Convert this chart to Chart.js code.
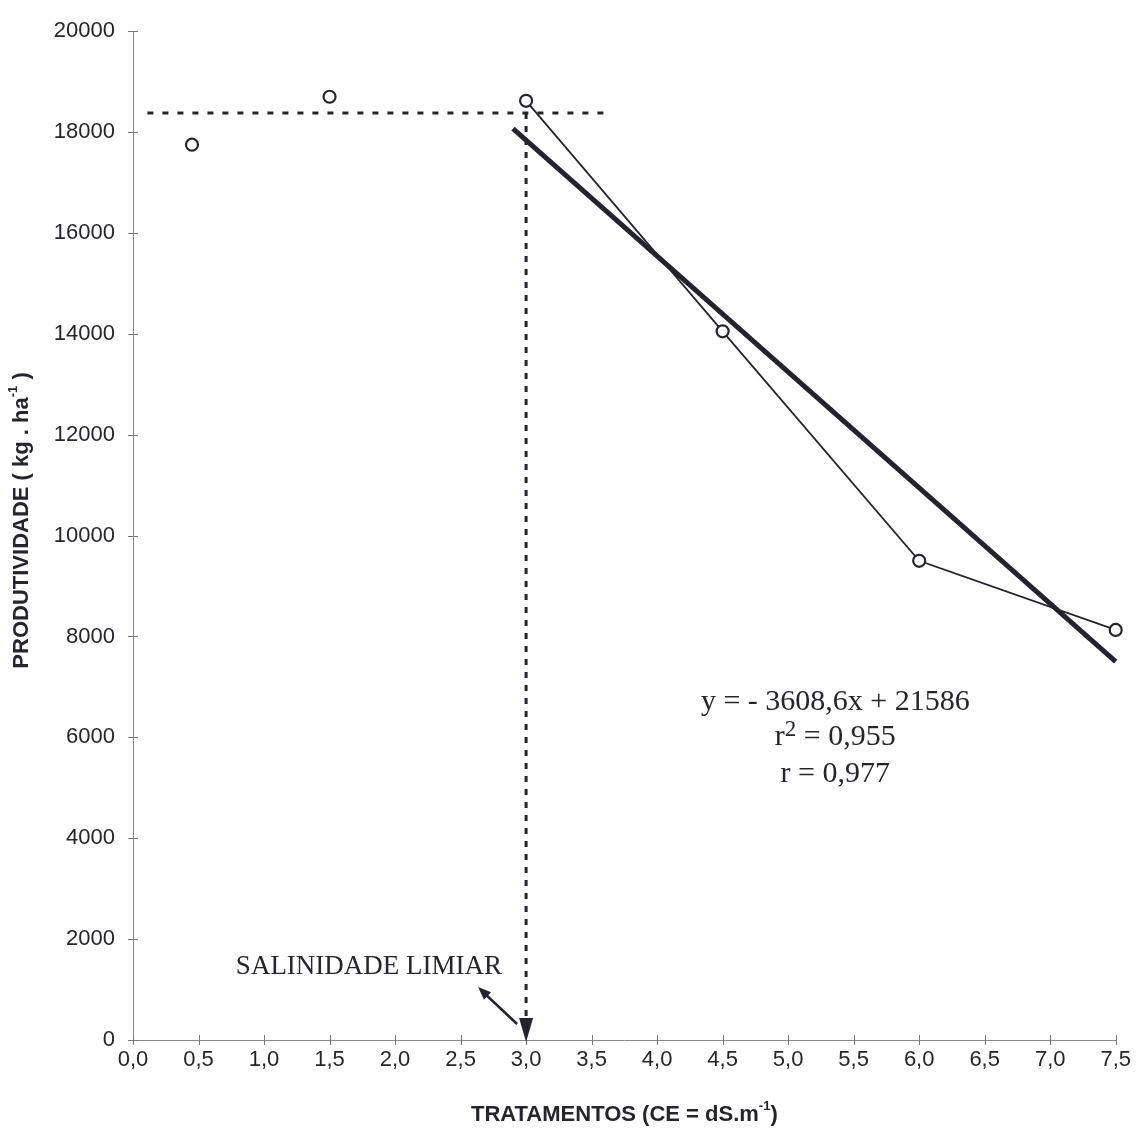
<!DOCTYPE html>
<html><head><meta charset="utf-8">
<script src="https://cdn.jsdelivr.net/npm/chart.js@4.4.0/dist/chart.umd.min.js"></script>
<style>html,body{margin:0;padding:0;background:#fff}#wrap{width:1138px;height:1134px;position:relative}</style>
</head><body><div id="wrap"><canvas id="c"></canvas></div>
<script>
// ---- data ----
const treatmentsCE = [0.45, 1.5, 3.0, 4.5, 6.0, 7.5];
const yieldKgHa = [17750, 18700, 18620, 14050, 9500, 8130];
const regressionX = [2.9, 7.5];
const regressionY = [18070, 7500];
const thresholdYield = 18380;
const thresholdLineX = [0.11, 3.6];
const thresholdCE = 3.0;
const xTickLabels = ['0,0','0,5','1,0','1,5','2,0','2,5','3,0','3,5','4,0','4,5','5,0','5,5','6,0','6,5','7,0','7,5'];
const yTickLabels = ['0','2000','4000','6000','8000','10000','12000','14000','16000','18000','20000'];
const equationLines = ['y = - 3608,6x + 21586', '= 0,955', 'r = 0,977'];
const thresholdLabel = 'SALINIDADE LIMIAR';
const xTitle = ['TRATAMENTOS (CE = dS.m', '-1', ')'];
const yTitle = ['PRODUTIVIDADE ( kg . ha', '-1', ' )'];

const INK = '#24232f';
const TXT = '#26252f';

const decor = {
  id: 'decor',
  afterDraw(chart) {
    const ctx = chart.ctx, xs = chart.scales.x, ys = chart.scales.y, ca = chart.chartArea;
    ctx.save();
    // tick marks crossing axes
    ctx.strokeStyle = '#777'; ctx.lineWidth = 1;
    xs.ticks.forEach(t => { const px = Math.round(xs.getPixelForValue(t.value)) + 0.5;
      ctx.beginPath(); ctx.moveTo(px, ca.bottom - 5); ctx.lineTo(px, ca.bottom + 5); ctx.stroke(); });
    ys.ticks.forEach(t => { const py = Math.round(ys.getPixelForValue(t.value)) + 0.5;
      ctx.beginPath(); ctx.moveTo(ca.left - 5, py); ctx.lineTo(ca.left + 5, py); ctx.stroke(); });
    // arrowhead at threshold
    const ax = xs.getPixelForValue(thresholdCE), ay = ys.getPixelForValue(0);
    ctx.fillStyle = INK;
    ctx.beginPath(); ctx.moveTo(ax - 7, ay - 22); ctx.lineTo(ax + 7, ay - 22); ctx.lineTo(ax, ay + 2); ctx.closePath(); ctx.fill();
    // diagonal pointer arrow
    const sx = ax - 9, sy = ay - 16, ex = ax - 48, ey = ay - 53;
    ctx.strokeStyle = INK; ctx.lineWidth = 2.5;
    ctx.beginPath(); ctx.moveTo(sx, sy); ctx.lineTo(ex + 6, ey + 6); ctx.stroke();
    const ang = Math.atan2(ey - sy, ex - sx);
    ctx.beginPath(); ctx.moveTo(ex, ey);
    ctx.lineTo(ex - 14 * Math.cos(ang - 0.38), ey - 14 * Math.sin(ang - 0.38));
    ctx.lineTo(ex - 14 * Math.cos(ang + 0.38), ey - 14 * Math.sin(ang + 0.38));
    ctx.closePath(); ctx.fill();
    // label
    ctx.fillStyle = TXT; ctx.font = '27px "Liberation Serif", "Times New Roman", serif';
    ctx.textAlign = 'right'; ctx.textBaseline = 'alphabetic';
    ctx.fillText(thresholdLabel, ax - 24, ay - 66);
    // equation block
    const cx = xs.getPixelForValue(5.36);
    ctx.textAlign = 'center';
    ctx.font = '30px "Liberation Serif", "Times New Roman", serif';
    ctx.fillText(equationLines[0], cx, ca.top + 679);
    // r^2 line
    const rw = ctx.measureText('r').width;
    ctx.font = '23px "Liberation Serif", serif';
    const sw = ctx.measureText('2').width;
    ctx.font = '30px "Liberation Serif", serif';
    const restW = ctx.measureText(' ' + equationLines[1]).width;
    const total = rw + sw + restW;
    let x0 = cx - total / 2;
    ctx.textAlign = 'left';
    ctx.fillText('r', x0, ca.top + 714);
    ctx.font = '23px "Liberation Serif", serif';
    ctx.fillText('2', x0 + rw, ca.top + 705);
    ctx.font = '30px "Liberation Serif", serif';
    ctx.fillText(' ' + equationLines[1], x0 + rw + sw, ca.top + 714);
    ctx.textAlign = 'center';
    ctx.fillText(equationLines[2], cx, ca.top + 751);
    // axis titles with superscripts
    const drawSup = (parts, size) => {
      ctx.font = 'bold ' + size + 'px "Liberation Sans", Arial, sans-serif';
      const w0 = ctx.measureText(parts[0]).width;
      ctx.font = 'bold ' + Math.round(size * 0.6) + 'px "Liberation Sans", Arial, sans-serif';
      const w1 = ctx.measureText(parts[1]).width;
      ctx.font = 'bold ' + size + 'px "Liberation Sans", Arial, sans-serif';
      const w2 = ctx.measureText(parts[2]).width;
      const tw = w0 + w1 + w2; let x = -tw / 2;
      ctx.textAlign = 'left'; ctx.textBaseline = 'middle';
      ctx.fillText(parts[0], x, 0); x += w0;
      ctx.font = 'bold ' + Math.round(size * 0.6) + 'px "Liberation Sans", Arial, sans-serif';
      ctx.fillText(parts[1], x, -size * 0.38); x += w1;
      ctx.font = 'bold ' + size + 'px "Liberation Sans", Arial, sans-serif';
      ctx.fillText(parts[2], x, 0);
    };
    ctx.fillStyle = TXT;
    ctx.save(); ctx.translate(xs.getPixelForValue(3.75), 1115); drawSup(xTitle, 22); ctx.restore();
    ctx.save(); ctx.translate(22, ys.getPixelForValue(10300)); ctx.rotate(-Math.PI / 2); drawSup(yTitle, 22); ctx.restore();
    ctx.restore();
  }
};

const observed = treatmentsCE.map((x, i) => ({ x, y: yieldKgHa[i] }));
const regression = regressionX.map((x, i) => ({ x, y: regressionY[i] }));
const hLine = thresholdLineX.map(x => ({ x, y: thresholdYield }));
const vLine = [{ x: thresholdCE, y: thresholdYield }, { x: thresholdCE, y: 430 }];

new Chart(document.getElementById('c'), {
  type: 'scatter',
  data: { datasets: [
    { data: observed, showLine: true, clip: false, borderColor: INK, borderWidth: 1.8, pointRadius: 6, pointBorderWidth: 2.2,
      pointBackgroundColor: '#fff', pointBorderColor: INK,
      segment: { borderColor: c => c.p0DataIndex < 2 ? 'rgba(0,0,0,0)' : INK } },
    { data: regression, showLine: true, clip: false, borderColor: INK, borderWidth: 5, pointRadius: 0, borderCapStyle: 'butt' },
    { data: hLine, showLine: true, borderColor: INK, borderWidth: 3, borderDash: [6, 9], pointRadius: 0 },
    { data: vLine, showLine: true, borderColor: INK, borderWidth: 3, borderDash: [6, 7], pointRadius: 0 }
  ]},
  options: {
    responsive: true, maintainAspectRatio: false, animation: false,
    layout: { padding: { left: 0, top: 28, right: 18, bottom: 0 } },
    plugins: { legend: { display: false }, tooltip: { enabled: false } },
    scales: {
      x: { type: 'linear', min: 0, max: 7.5,
        afterFit: s => { s.height = 94; },
        grid: { display: false, drawTicks: false },
        border: { display: true, color: '#888', width: 1 },
        ticks: { stepSize: 0.5, autoSkip: false, maxRotation: 0, padding: 7, color: TXT,
          font: { family: '"Liberation Sans", Arial, sans-serif', size: 22 },
          callback: (v, i) => xTickLabels[i] } },
      y: { type: 'linear', min: 0, max: 20000,
        afterFit: s => { s.width = 133; },
        grid: { display: false, drawTicks: false },
        border: { display: true, color: '#888', width: 1 },
        ticks: { stepSize: 2000, autoSkip: false, padding: 18, color: TXT,
          font: { family: '"Liberation Sans", Arial, sans-serif', size: 22 },
          callback: (v, i) => yTickLabels[i] } }
    }
  },
  plugins: [decor]
});
</script></body></html>
